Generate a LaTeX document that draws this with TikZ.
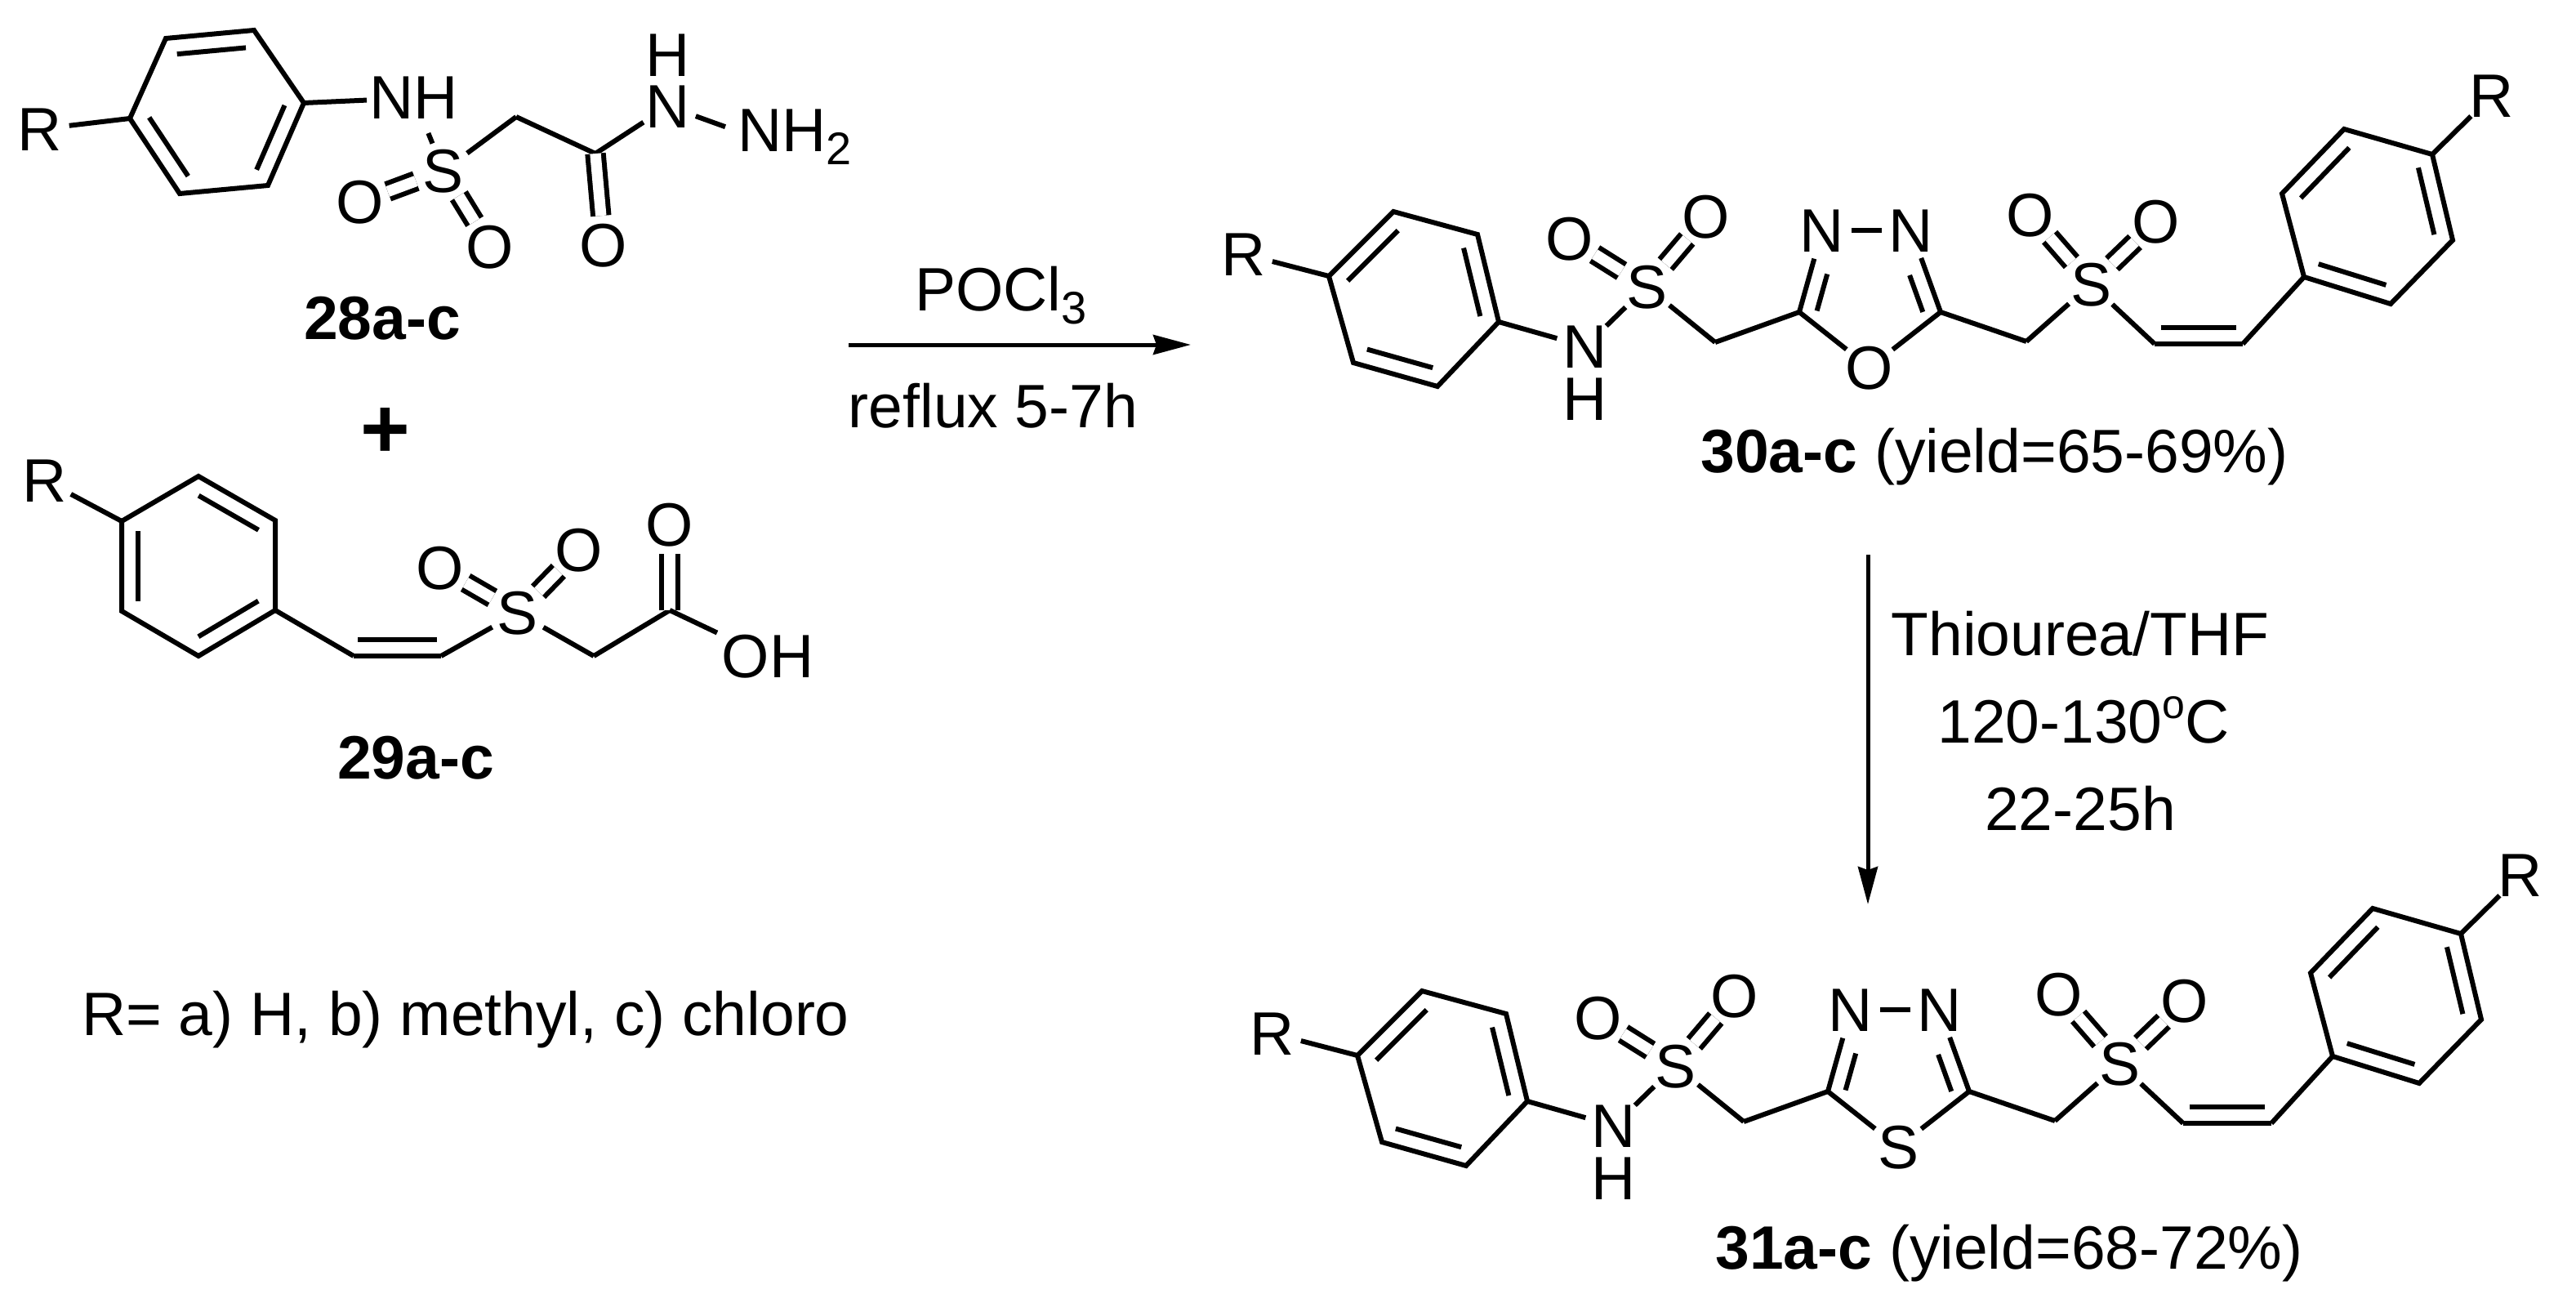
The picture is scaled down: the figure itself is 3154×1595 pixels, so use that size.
\documentclass[tikz,border=0pt]{standalone}
\usepackage{fontspec}
\setmainfont{Liberation Sans}
\usetikzlibrary{calc,arrows.meta}
\newcommand\atm[1]{\makebox[0pt]{\raisebox{-13.4pt}[0pt][0pt]{#1}}}
% inner line of an asymmetric double bond: a, b, from-fraction, to-fraction, side angle
\newcommand\innerbond[5]{\draw[bond] ($(#1)!#3!(#2)!10.2pt!#5:(#2)$) -- ($(#1)!#4!(#2)!10.2pt!#5:(#2)$);}
\newcommand\ringinner[2]{\innerbond{#1}{#2}{.11}{.89}{-90}}
\newcommand\subscr[1]{\raisebox{-8pt}{\fontsize{28}{28}\selectfont #1}}
\tikzset{
  txt/.style={font=\fontsize{37.5}{37.5}\selectfont,inner sep=0pt,outer sep=0pt},
  atom/.style={txt,circle,minimum size=36pt},
  nhbox/.style={txt,rectangle,minimum width=58pt,minimum height=43pt},
  bond/.style={line width=3pt,line join=miter},
  dbl/.style={line width=3pt,double,double distance=6.7pt},
  rxn/.style={line width=2.5pt,-{Stealth[length=23pt,width=12pt,inset=2pt]}}
}
% disulfonyl azole skeleton; #1 is the ring hetero atom O or S
\newcommand\azolemol[1]{
  \coordinate (a) at (1627,338); \coordinate (b) at (1706,259); \coordinate (c) at (1809,287);
  \coordinate (d) at (1835,394); \coordinate (e) at (1760,473); \coordinate (f) at (1657,444);
  \coordinate (g1) at (2821,339); \coordinate (g2) at (2794,237); \coordinate (g3) at (2870,158);
  \coordinate (g4) at (2978,189); \coordinate (g5) at (3003,294); \coordinate (g6) at (2927,372);
  \coordinate (ch1) at (2100,419); \coordinate (c1) at (2203,382); \coordinate (c2) at (2376,382);
  \coordinate (ch2) at (2481,418); \coordinate (v1) at (2638,421); \coordinate (v2) at (2746,421);
  \node[atom] (R1) at (1523,311) {\atm{R}};
  \node[atom] (N) at (1941,424) {\atm{N}};
  \node[atom] (H) at (1941,488) {\atm{H}};
  \node[atom] (S1) at (2016,351) {\atm{S}};
  \node[atom] (O1) at (1922,292) {\atm{O}};
  \node[atom] (O2) at (2089,265) {\atm{O}};
  \node[atom] (N1) at (2231,282) {\atm{N}};
  \node[atom] (N2) at (2340,282) {\atm{N}};
  \node[atom] (X) at (2289,450) {\atm{#1}};
  \node[atom] (S2) at (2560,348) {\atm{S}};
  \node[atom] (O3) at (2486,263) {\atm{O}};
  \node[atom] (O4) at (2640,271) {\atm{O}};
  \node[atom] (R2) at (3051,117) {\atm{R}};
  \draw[bond] (a)--(b)--(c)--(d)--(e)--(f)--cycle;
  \ringinner{a}{b} \ringinner{c}{d} \ringinner{e}{f}
  \draw[bond] (g1)--(g2)--(g3)--(g4)--(g5)--(g6)--cycle;
  \ringinner{g2}{g3} \ringinner{g4}{g5} \ringinner{g6}{g1}
  \draw[bond] (R1)--(a);
  \draw[bond] (d)--(N);
  \draw[bond] (N)--(S1);
  \draw[dbl] (S1)--(O1);
  \draw[dbl] (S1)--(O2);
  \draw[bond] (S1)--(ch1);
  \draw[bond] (ch1)--(c1);
  \draw[bond] (c1)--(N1);
  \innerbond{c1}{N1}{.07}{.52}{-90}
  \draw[bond] (N1)--(N2);
  \draw[bond] (c2)--(N2);
  \innerbond{c2}{N2}{.07}{.52}{90}
  \draw[bond] (c1)--(X);
  \draw[bond] (c2)--(X);
  \draw[bond] (c2)--(ch2);
  \draw[bond] (ch2)--(S2);
  \draw[dbl] (S2)--(O3);
  \draw[dbl] (S2)--(O4);
  \draw[bond] (S2)--(v1);
  \draw[bond] (v1)--(v2);
  \innerbond{v1}{v2}{.07}{.93}{90}
  \draw[bond] (v2)--(g1);
  \draw[bond] (g4)--(R2);
}
\begin{document}
\begin{tikzpicture}[x=.5pt,y=-.5pt]
\useasboundingbox (0,0) rectangle (3154,1595);

% ---------- 28a-c
\coordinate (r1) at (159,145); \coordinate (r2) at (203,47); \coordinate (r3) at (311,37);
\coordinate (r4) at (372,126); \coordinate (r5) at (328,227); \coordinate (r6) at (220,237);
\coordinate (p28ch) at (632,143); \coordinate (p28c) at (729,188);
\node[atom] (p28R) at (49,158) {\atm{R}};
\node[nhbox] (p28NH) at (507,120) {NH};
\node[atom] (p28S) at (543,209) {\atm{S}};
\node[atom] (p28O1) at (441,247) {\atm{O}};
\node[atom] (p28O2) at (600,302) {\atm{O}};
\node[atom] (p28O3) at (739,300) {\atm{O}};
\node[atom] (p28N) at (818,130) {\atm{N}};
\node[atom] (p28H) at (818,67) {\atm{H}};
\node[txt,rectangle,anchor=base west,inner xsep=7.5pt] (p28NH2) at (888,185) {NH\subscr{2}};
\draw[bond] (r1)--(r2)--(r3)--(r4)--(r5)--(r6)--cycle;
\ringinner{r2}{r3} \ringinner{r4}{r5} \ringinner{r6}{r1}
\draw[bond] (p28R)--(r1);
\draw[bond] (r4)--(p28NH);
\draw[bond] (p28NH)--(p28S);
\draw[dbl] (p28S)--(p28O1);
\draw[dbl] (p28S)--(p28O2);
\draw[bond] (p28S)--(p28ch);
\draw[bond] (p28ch)--(p28c);
\draw[bond] (p28c)--(p28N);
\draw[dbl] (p28c)--(p28O3);
\draw[bond] (p28N)--($(p28NH2.west)+(0,-12)$);
\node[txt,anchor=base] (l28) at (468,415) {\textbf{28a-c}};

% ---------- plus
\node[txt,font=\fontsize{52}{52}\selectfont\bfseries] (plus) at (472,530) {+};

% ---------- 29a-c
\coordinate (q1) at (149,638); \coordinate (q2) at (243,583); \coordinate (q3) at (337,637);
\coordinate (q4) at (337,747); \coordinate (q5) at (243,803); \coordinate (q6) at (149,748);
\coordinate (p29v1) at (433,803); \coordinate (p29v2) at (540,803);
\coordinate (p29ch) at (727,803); \coordinate (p29c) at (820,747);
\node[atom] (p29R) at (55,588) {\atm{R}};
\node[atom] (p29S) at (634,750) {\atm{S}};
\node[atom] (p29O1) at (539,695) {\atm{O}};
\node[atom] (p29O2) at (709,673) {\atm{O}};
\node[atom] (p29O3) at (820,642) {\atm{O}};
\node[nhbox,minimum width=62pt] (p29OH) at (940,804) {OH};
\draw[bond] (q1)--(q2)--(q3)--(q4)--(q5)--(q6)--cycle;
\ringinner{q2}{q3} \ringinner{q4}{q5} \ringinner{q6}{q1}
\draw[bond] (p29R)--(q1);
\draw[bond] (q4)--(p29v1);
\draw[bond] (p29v1)--(p29v2);
\innerbond{p29v1}{p29v2}{.05}{.95}{90}
\draw[bond] (p29v2)--(p29S);
\draw[dbl] (p29S)--(p29O1);
\draw[dbl] (p29S)--(p29O2);
\draw[bond] (p29S)--(p29ch);
\draw[bond] (p29ch)--(p29c);
\draw[dbl] (p29c)--(p29O3);
\draw[bond] (p29c)--(p29OH);
\node[txt,anchor=base] (l29) at (509,953) {\textbf{29a-c}};

% ---------- R legend
\node[txt,anchor=base west] (legend) at (100,1267) {R= a) H, b) methyl, c) chloro};

% ---------- first arrow
\coordinate (arrAs) at (1039,422); \coordinate (arrAe) at (1458,422);
\draw[rxn] (arrAs)--(arrAe);
\node[txt,anchor=base west] (pocl) at (1120,380) {POCl\subscr{3}};
\node[txt,anchor=base] (reflux) at (1216,523) {reflux 5-7h};

% ---------- second arrow
\coordinate (arrBs) at (2287,679); \coordinate (arrBe) at (2287,1107);
\draw[rxn] (arrBs)--(arrBe);
\node[txt,anchor=base] (thio) at (2547,802) {Thiourea/THF};
\node[txt,anchor=base] (temp) at (2551,909) {120-130\raisebox{15pt}{\fontsize{25}{25}\selectfont o}C};
\node[txt,anchor=base] (time) at (2547,1016) {22-25h};

% ---------- 30a-c and 31a-c
\begin{scope}[name prefix=p30-]
  \azolemol{O}
\end{scope}
\node[txt,anchor=base] (l30) at (2442,578) {\textbf{30a-c} (yield=65-69\%)};
\begin{scope}[shift={(35,954)},name prefix=p31-]
  \azolemol{S}
\end{scope}
\node[txt,anchor=base] (l31) at (2460,1553) {\textbf{31a-c} (yield=68-72\%)};
\end{tikzpicture}
\end{document}
